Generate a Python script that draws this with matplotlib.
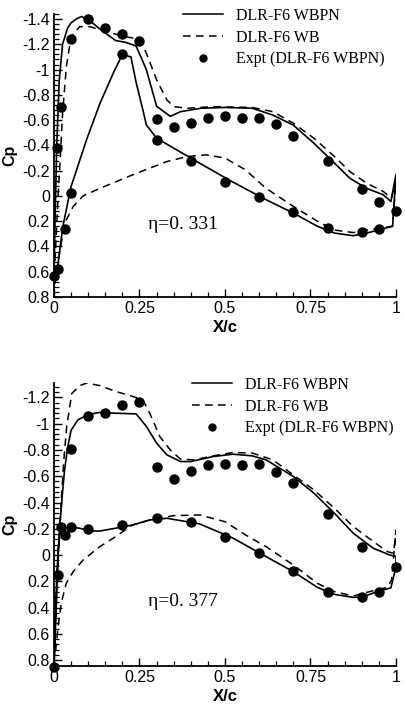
import matplotlib
matplotlib.use("Agg")
import matplotlib.pyplot as plt
from matplotlib.ticker import MultipleLocator, FuncFormatter
from matplotlib.lines import Line2D

# ---------------- Panel 1 (eta = 0.331) ----------------
p1_wbpn_x = [0.0, 0.003, 0.008, 0.015, 0.025, 0.04, 0.05, 0.065, 0.08, 0.104, 0.13, 0.155, 0.18,
             0.21, 0.24, 0.27, 0.30, 0.34, 0.37, 0.43, 0.50, 0.58, 0.64, 0.70, 0.76, 0.82, 0.865,
             0.914, 0.963, 0.985, 1.0,
             0.99, 0.963, 0.914, 0.875, 0.82, 0.77, 0.70, 0.62, 0.52, 0.426, 0.35, 0.30, 0.27,
             0.26, 0.24, 0.225, 0.20, 0.173, 0.134, 0.095, 0.05, 0.026, 0.012, 0.002]
p1_wbpn_y = [0.64, 0.2, -0.4, -0.9, -1.2, -1.33, -1.37, -1.40, -1.42, -1.39, -1.33, -1.28, -1.23,
             -1.215, -1.187, -1.0, -0.71, -0.63, -0.667, -0.694, -0.70, -0.694, -0.64, -0.56,
             -0.417, -0.26, -0.14, -0.06, -0.009, 0.044, -0.17,
             0.24, 0.26, 0.294, 0.315, 0.294, 0.24, 0.136, 0.03, -0.114, -0.259, -0.378, -0.457,
             -0.562, -0.68, -0.9, -1.10, -1.12, -0.97, -0.73, -0.443, -0.075, 0.24, 0.53, 0.69]

p1_wb_x = [0.0, 0.005, 0.012, 0.017, 0.025, 0.036, 0.05, 0.075, 0.104, 0.153, 0.21, 0.25, 0.27,
           0.30, 0.33, 0.35, 0.39, 0.465, 0.58, 0.64, 0.70, 0.76, 0.82, 0.865, 0.914, 0.963,
           0.987, 1.0,
           0.99, 0.914, 0.875, 0.82, 0.77, 0.70, 0.62, 0.56, 0.50, 0.446, 0.39, 0.33, 0.23,
           0.134, 0.085, 0.056, 0.036, 0.021, 0.007, 0.0]
p1_wb_y = [0.72, 0.4, 0.0, -0.23, -0.65, -1.02, -1.26, -1.34, -1.34, -1.30, -1.26, -1.24, -1.13,
           -0.92, -0.76, -0.707, -0.694, -0.707, -0.70, -0.667, -0.575, -0.457, -0.312, -0.193,
           -0.101, -0.035, 0.018, -0.13,
           0.24, 0.27, 0.29, 0.27, 0.2, 0.083, -0.06, -0.206, -0.30, -0.325, -0.312, -0.272,
           -0.167, -0.06, 0.0, 0.084, 0.19, 0.373, 0.61, 0.72]

p1_exp_x = [0.0, 0.012, 0.01, 0.021, 0.031, 0.049, 0.051, 0.10, 0.15, 0.20, 0.20, 0.25, 0.30,
            0.30, 0.35, 0.40, 0.40, 0.45, 0.50, 0.50, 0.55, 0.60, 0.60, 0.65, 0.70, 0.70, 0.80,
            0.80, 0.90, 0.90, 0.95, 0.95, 1.0]
p1_exp_y = [0.637, 0.579, -0.383, -0.70, 0.263, -1.245, -0.027, -1.40, -1.331, -1.284, -1.121,
            -1.229, -0.612, -0.443, -0.544, -0.58, -0.277, -0.62, -0.633, -0.111, -0.62, -0.62,
            0.01, -0.57, -0.478, 0.131, -0.275, 0.25, -0.053, 0.286, 0.049, 0.265, 0.118]

# ---------------- Panel 2 (eta = 0.377) ----------------
p2_wbpn_x = [0.0, 0.008, 0.012, 0.018, 0.024, 0.031, 0.04, 0.05, 0.07, 0.10, 0.134, 0.18, 0.24,
             0.27, 0.30, 0.33, 0.37, 0.40, 0.465, 0.524, 0.58, 0.62, 0.70, 0.76, 0.82, 0.875,
             0.934, 0.982, 1.0,
             1.0, 0.985, 0.95, 0.90, 0.875, 0.82, 0.77, 0.70, 0.62, 0.524, 0.426, 0.33, 0.28,
             0.23, 0.18, 0.134, 0.105, 0.075, 0.05, 0.03, 0.02, 0.012, 0.005, 0.0]
p2_wbpn_y = [0.85, 0.3, 0.0, -0.25, -0.45, -0.65, -0.82, -0.95, -1.03, -1.07, -1.086, -1.08,
             -1.075, -0.98, -0.852, -0.763, -0.712, -0.712, -0.75, -0.768, -0.755, -0.725,
             -0.598, -0.471, -0.318, -0.166, -0.051, 0.0, 0.01,
             0.09, 0.25, 0.275, 0.32, 0.322, 0.30, 0.246, 0.127, 0.012, -0.128, -0.237, -0.28,
             -0.267, -0.229, -0.204, -0.183, -0.183, -0.204, -0.211, -0.204, -0.217, -0.039,
             0.368, 0.85]

p2_wb_x = [0.0, 0.005, 0.012, 0.021, 0.028, 0.037, 0.052, 0.075, 0.096, 0.134, 0.18, 0.23, 0.26,
           0.28, 0.31, 0.34, 0.37, 0.41, 0.465, 0.524, 0.58, 0.64, 0.70, 0.76, 0.82, 0.875,
           0.934, 0.975, 0.993, 1.0,
           0.987, 0.975, 0.934, 0.875, 0.82, 0.77, 0.70, 0.62, 0.56, 0.50, 0.426, 0.35, 0.28,
           0.23, 0.18, 0.134, 0.085, 0.056, 0.036, 0.021, 0.012, 0.005, 0.0]
p2_wb_y = [0.75, 0.4, 0.0, -0.40, -0.7, -0.976, -1.23, -1.29, -1.31, -1.29, -1.246, -1.208,
           -1.18, -1.08, -0.90, -0.80, -0.73, -0.725, -0.755, -0.781, -0.776, -0.725, -0.61,
           -0.496, -0.356, -0.217, -0.102, -0.026, -0.013, -0.19,
           0.19, 0.246, 0.271, 0.312, 0.279, 0.215, 0.076, -0.064, -0.153, -0.254, -0.305,
           -0.30, -0.267, -0.229, -0.14, -0.064, 0.038, 0.127, 0.215, 0.368, 0.546, 0.724, 0.75]

p2_exp_x = [0.0, 0.012, 0.02, 0.033, 0.051, 0.051, 0.10, 0.10, 0.15, 0.20, 0.20, 0.25, 0.30,
            0.30, 0.35, 0.40, 0.40, 0.45, 0.50, 0.50, 0.55, 0.60, 0.60, 0.65, 0.70, 0.70, 0.80,
            0.80, 0.90, 0.90, 0.95, 1.0]
p2_exp_y = [0.851, 0.152, -0.217, -0.153, -0.217, -0.809, -0.196, -1.06, -1.08, -1.144, -0.229,
            -1.162, -0.669, -0.285, -0.577, -0.643, -0.255, -0.687, -0.692, -0.135, -0.687,
            -0.692, -0.013, -0.636, -0.547, 0.119, -0.311, 0.284, -0.064, 0.322, 0.284, 0.088]

legend_labels = ["DLR-F6 WBPN", "DLR-F6 WB", "Expt (DLR-F6 WBPN)"]

serif = ["Liberation Serif", "DejaVu Serif"]
sans = ["Liberation Sans", "DejaVu Sans"]

fig = plt.figure(figsize=(4.06, 7.06), dpi=100)

def fmt(v, pos):
    s = "%g" % round(v, 6)
    return "0" if s in ("-0", "0") else s

def draw(ax, wbpn_x, wbpn_y, wb_x, wb_y, ex, ey, ylim, eta_text, eta_xy, leg_anchor):
    ax.plot(wbpn_x, wbpn_y, color="black", lw=1.2, ls="-")
    ax.plot(wb_x, wb_y, color="black", lw=1.1, ls=(0, (5, 3.5)))
    ax.plot(ex, ey, "o", color="black", ms=6.5, ls="none", clip_on=False)
    ax.set_xlim(0, 1)
    ax.set_ylim(*ylim)
    ax.spines["top"].set_visible(False)
    ax.spines["right"].set_visible(False)
    ax.spines["left"].set_linewidth(1.3)
    ax.spines["bottom"].set_linewidth(1.3)
    ax.xaxis.set_major_locator(MultipleLocator(0.25))
    ax.xaxis.set_minor_locator(MultipleLocator(0.05))
    ax.yaxis.set_major_locator(MultipleLocator(0.2))
    ax.yaxis.set_minor_locator(MultipleLocator(0.04))
    ax.xaxis.set_major_formatter(FuncFormatter(fmt))
    ax.yaxis.set_major_formatter(FuncFormatter(fmt))
    ax.tick_params(which="major", direction="in", length=6, width=1.0, labelsize=11.5, pad=3)
    ax.tick_params(which="minor", direction="in", length=3.5, width=0.9)
    for lab in ax.get_xticklabels() + ax.get_yticklabels():
        lab.set_family(sans)
    ax.set_xlabel("X/c", family=sans, fontsize=12, fontweight="bold")
    ax.set_ylabel("Cp", family=sans, fontsize=11.5, fontweight="bold")
    ax.xaxis.set_label_coords(0.5, -0.082)
    ax.yaxis.set_label_coords(-0.106, 0.5)
    ax.text(eta_xy[0], eta_xy[1], eta_text, family=serif, fontsize=14,
            ha="left", va="center")
    handles = [Line2D([], [], color="black", lw=1.1, ls="-"),
               Line2D([], [], color="black", lw=1.1, ls=(0, (5, 3.5))),
               Line2D([], [], color="black", marker="o", ms=5, ls="none")]
    ax.legend(handles, legend_labels, loc="upper left", bbox_to_anchor=leg_anchor,
              bbox_transform=fig.transFigure, frameon=False, prop={"family": serif, "size": 11.5},
              handlelength=2.5, handletextpad=0.8, labelspacing=0.35, borderpad=0,
              borderaxespad=0, numpoints=1)

ax1 = fig.add_axes([54 / 406, 1 - 297 / 706, 342 / 406, 283 / 706])
draw(ax1, p1_wbpn_x, p1_wbpn_y, p1_wb_x, p1_wb_y, p1_exp_x, p1_exp_y,
     (0.8, -1.44), "η=0. 331", (0.275, 0.23), (183 / 406, 1 - 8 / 706))

ax2 = fig.add_axes([54 / 406, 1 - 666 / 706, 342 / 406, 283 / 706])
draw(ax2, p2_wbpn_x, p2_wbpn_y, p2_wb_x, p2_wb_y, p2_exp_x, p2_exp_y,
     (0.845, -1.31), "η=0. 377", (0.275, 0.355), (192 / 406, 1 - 377 / 706))

fig.savefig("out.png", dpi=100)
